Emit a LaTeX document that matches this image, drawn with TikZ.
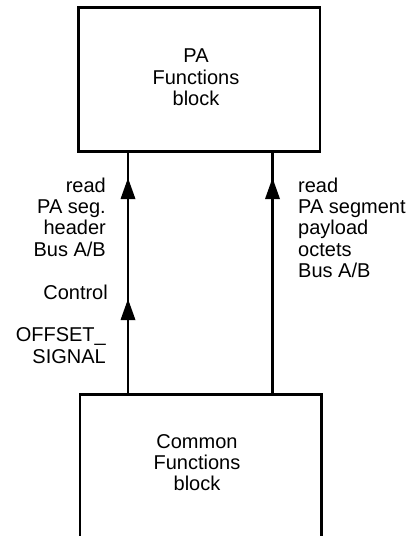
\documentclass[tikz,border=0pt]{standalone}
\usepackage{fontspec}
\setmainfont{Liberation Sans}
\usetikzlibrary{decorations.markings}
\newcommand\arrtip{\fill (-21pt,-7.5pt) -- (0pt,0pt) -- (-21pt,7.5pt) -- cycle;}
\begin{document}
\begin{tikzpicture}[x=1pt,y=-1pt,
  box/.style={draw,line width=2.6pt,inner sep=0pt},
  lbl/.style={font=\fontsize{20}{21.3}\selectfont,inner sep=0pt},
  conn/.style={line width=2.2pt}
]
\path[use as bounding box] (0,0) rectangle (411,536);
\clip (0,0) rectangle (411,536);
\node[box,minimum width=241.7pt,minimum height=144.4pt] (pa) at (199.15,79.5) {};
\node[box,minimum width=241.7pt,minimum height=200pt,anchor=north] (cf) at (200.85,393) {};
% multi-line nodes: base anchor sits on the last line's baseline
\node[lbl,align=center,anchor=base] (patxt) at (196,105.3) {PA\\Functions\\block};
\node[lbl,align=center,anchor=base] (cftxt) at (197,490.6) {Common\\Functions\\block};
\coordinate (lx) at (128,0);
\coordinate (rx) at (272.5,0);
\draw[conn,postaction={decorate},decoration={markings,
   mark=at position 94pt with {\arrtip},
   mark=at position 215pt with {\arrtip}}]
  (cf.north -| lx) -- (pa.south -| lx);
\draw[conn,postaction={decorate},decoration={markings,
   mark=at position 215pt with {\arrtip}}]
  (cf.north -| rx) -- (pa.south -| rx);
\node[lbl,align=right,anchor=base east] (l1) at (106,256.2) {read\\PA seg.\\header\\Bus A/B};
\node[lbl,anchor=base east] (l2) at (108,299) {Control};
\node[lbl,align=right,anchor=base east] (l3) at (106,363) {OFFSET\_\\SIGNAL};
\node[lbl,align=left,anchor=base west] (r1) at (298,277.5) {read\\PA segment\\payload\\octets\\Bus A/B};
\end{tikzpicture}
\end{document}
